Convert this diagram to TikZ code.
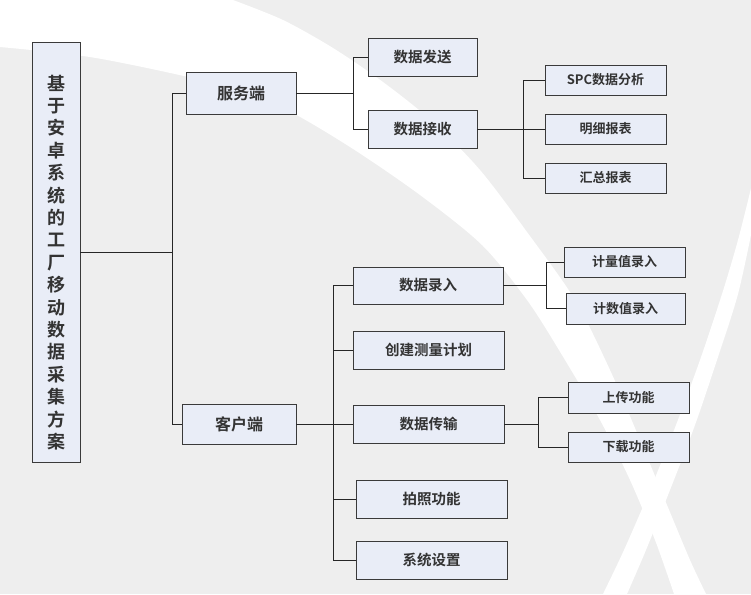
\documentclass[tikz,border=0pt]{standalone}
\usepackage{fontspec}
\setmainfont{Noto Sans CJK SC}[BoldFont={Noto Sans CJK SC Bold}]
\usetikzlibrary{shadows}
\definecolor{bggray}{HTML}{EEEEEE}
\definecolor{boxfill}{HTML}{E9EDF7}
\definecolor{boxline}{HTML}{3A3A3A}
\definecolor{txtgray}{HTML}{333333}
\begin{document}
\begin{tikzpicture}[x=1pt,y=-1pt,
  box/.style={draw=boxline,line width=0.9pt,fill=boxfill,text=txtgray,inner sep=0pt,
    drop shadow={shadow xshift=0.9pt,shadow yshift=-0.9pt,fill=black!40}},
  topbox/.style={box,minimum width=112pt,minimum height=40pt,font=\fontsize{16pt}{16pt}\bfseries\selectfont},
  midbox/.style={box,minimum width=151pt,minimum height=38pt,font=\fontsize{14.5pt}{14.5pt}\bfseries\selectfont},
  leafbox/.style={box,minimum width=121pt,minimum height=30pt,font=\fontsize{13pt}{13pt}\bfseries\selectfont},
  link/.style={draw=black!85,line width=0.9pt}]
 \useasboundingbox (0,0) rectangle (751,594);
 \fill[bggray] (0,0) rectangle (751,594);
 \fill[white] (0,0) -- plot[smooth] coordinates {(233,0) (283,20) (333,48) (383,82) (433,122) (480,170) (527,232) (575,300) (610,370) (640,440) (667,505) (690,560) (706,594)}
   -- plot[smooth] coordinates {(674,594) (655,540) (630,480) (600,420) (562,355) (527,300) (482,245) (420,195) (350,147) (283,108) (217,84) (96,58) (0,47)} -- cycle;
 \fill[white] plot[smooth] coordinates {(753,180) (738,240) (722,294) (700,360) (676,425) (650,490) (624,550) (603,594)}
   -- plot[smooth] coordinates {(627,594) (646,550) (670,490) (695,425) (717,360) (738,294) (753,225)} -- cycle;
 % root
 \node[box,minimum width=48pt,minimum height=420pt] (root) at (56,252) {};
 \node[text=txtgray,align=center,font=\fontsize{18pt}{22.4pt}\bfseries\selectfont] (title) at (56,262.5)
   {基\\于\\安\\卓\\系\\统\\的\\工\\厂\\移\\动\\数\\据\\采\\集\\方\\案};
 \node[topbox,minimum width=110pt,minimum height=42pt] (srv) at (241,93) {服务端};
 \node[topbox,minimum width=114pt] (cli) at (239,424) {客户端};
 % server side
 \node[midbox,minimum width=109pt] (send) at (422.5,57) {数据发送};
 \node[midbox,minimum width=109pt] (recv) at (422.5,129) {数据接收};
 \node[leafbox] (spc) at (605.5,80) {SPC数据分析};
 \node[leafbox] (detail) at (605.5,129) {明细报表};
 \node[leafbox] (summary) at (605.5,178) {汇总报表};
 % client side
 \node[midbox,minimum width=150pt,minimum height=37pt] (input) at (428,285.5) {数据录入};
 \node[midbox] (plan) at (428.5,350) {创建测量计划};
 \node[midbox] (trans) at (428.5,424) {数据传输};
 \node[midbox] (photo) at (431.5,499) {拍照功能};
 \node[midbox] (setting) at (431.5,560) {系统设置};
 \node[leafbox] (meas) at (624.5,262) {计量值录入};
 \node[leafbox,minimum width=119pt,minimum height=31pt] (count) at (625.5,308.5) {计数值录入};
 \node[leafbox,minimum height=31pt] (up) at (628.5,397.5) {上传功能};
 \node[leafbox] (down) at (628.5,447) {下载功能};
 % connectors
 \coordinate (t0) at (172,252);
 \coordinate (t1) at (353,93);
 \coordinate (t2) at (523,129);
 \coordinate (t3) at (333,424);
 \coordinate (t4) at (546,285.5);
 \coordinate (t5) at (538,424);
 \draw[link] (root.east) -- (t0);
 \draw[link] (srv.east) -- (t1);
 \draw[link] (recv.east) -- (t2);
 \draw[link] (cli.east) -- (t3);
 \draw[link] (input.east) -- (t4);
 \draw[link] (trans.east) -- (t5);
 \foreach \n in {srv,cli} \draw[link] (\n.west) -| (t0);
 \foreach \n in {send,recv} \draw[link] (\n.west) -| (t1);
 \foreach \n in {spc,detail,summary} \draw[link] (\n.west) -| (t2);
 \foreach \n in {input,plan,trans,photo,setting} \draw[link] (\n.west) -| (t3);
 \foreach \n in {meas,count} \draw[link] (\n.west) -| (t4);
 \foreach \n in {up,down} \draw[link] (\n.west) -| (t5);
\end{tikzpicture}
\end{document}
